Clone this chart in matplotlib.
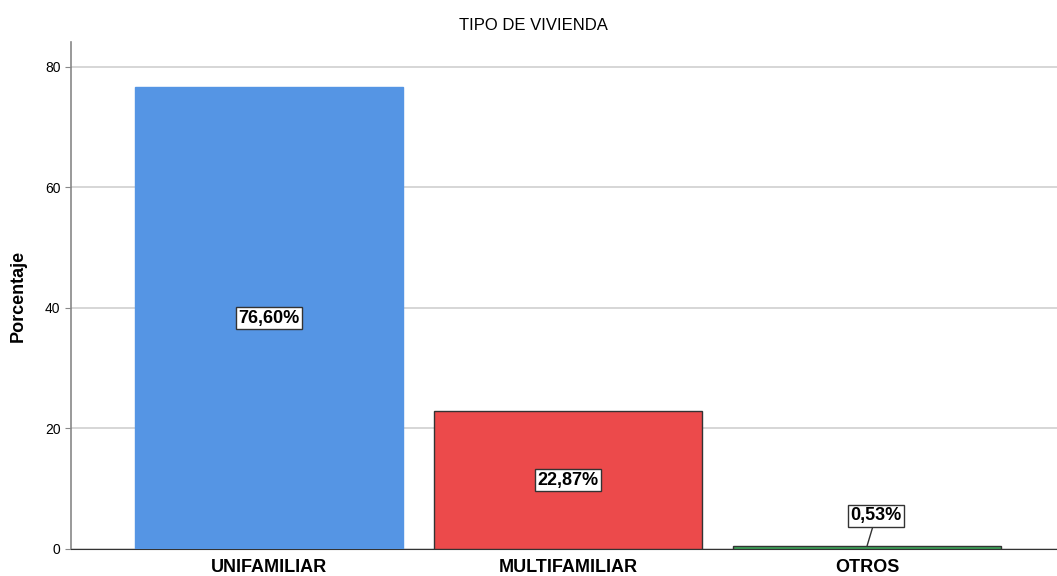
import matplotlib.pyplot as plt

categorias = ["UNIFAMILIAR", "MULTIFAMILIAR", "OTROS"]
porcentajes = [76.60, 22.87, 0.53]
etiquetas = ["76,60%", "22,87%", "0,53%"]
colores = ["#5595e4", "#ec4a4b", "#3daa5a"]

plt.rcParams['font.family'] = ['Liberation Sans', 'DejaVu Sans']

fig = plt.figure(figsize=(10.57, 5.76), dpi=100)
ax = fig.add_axes([71/1057, 27/576, 986/1057, 507/576])

x = range(len(categorias))
bars = ax.bar(x, porcentajes, width=0.896, color=colores,
              edgecolor=["#5595e4", "#333333", "#333333"], linewidth=1.0, zorder=3)

caja = dict(boxstyle="square,pad=0.15", fc="white", ec="#333333", lw=1)
for i, (v, t) in enumerate(zip(porcentajes, etiquetas)):
    if v > 5:
        ax.text(i, v / 2, t, ha="center", va="center", fontsize=13,
                fontweight="bold", bbox=caja, zorder=5)
    else:
        ax.annotate(t, xy=(i, v), xytext=(i + 0.03, 5.5),
                    ha="center", va="center", fontsize=13, fontweight="bold",
                    bbox=caja, zorder=5,
                    arrowprops=dict(arrowstyle="-", color="#333333", lw=1,
                                    shrinkA=0, shrinkB=0))

ax.set_xlim(-0.662, 2.635)
ax.set_ylim(0, 84.1)
ax.set_yticks([0, 20, 40, 60, 80])
ax.set_xticks(list(x))
ax.set_xticklabels(categorias, fontsize=13, fontweight="bold")
ax.tick_params(axis="x", length=0, pad=7)
ax.tick_params(axis="y", labelsize=10, length=4, color="#888888")
ax.yaxis.grid(True, color="#d0d0d0", lw=1.2, zorder=0)
ax.set_axisbelow(True)

for s in ["top", "right"]:
    ax.spines[s].set_visible(False)
ax.spines["left"].set_color("#888888")
ax.spines["left"].set_linewidth(1.2)
ax.spines["bottom"].set_color("#333333")

ax.set_ylabel("Porcentaje", fontsize=13, fontweight="bold", labelpad=13)
fig.text(533/1057, 1 - 25/576, "TIPO DE VIVIENDA", ha="center", va="center", fontsize=12)

fig.savefig("out.png", dpi=100)
